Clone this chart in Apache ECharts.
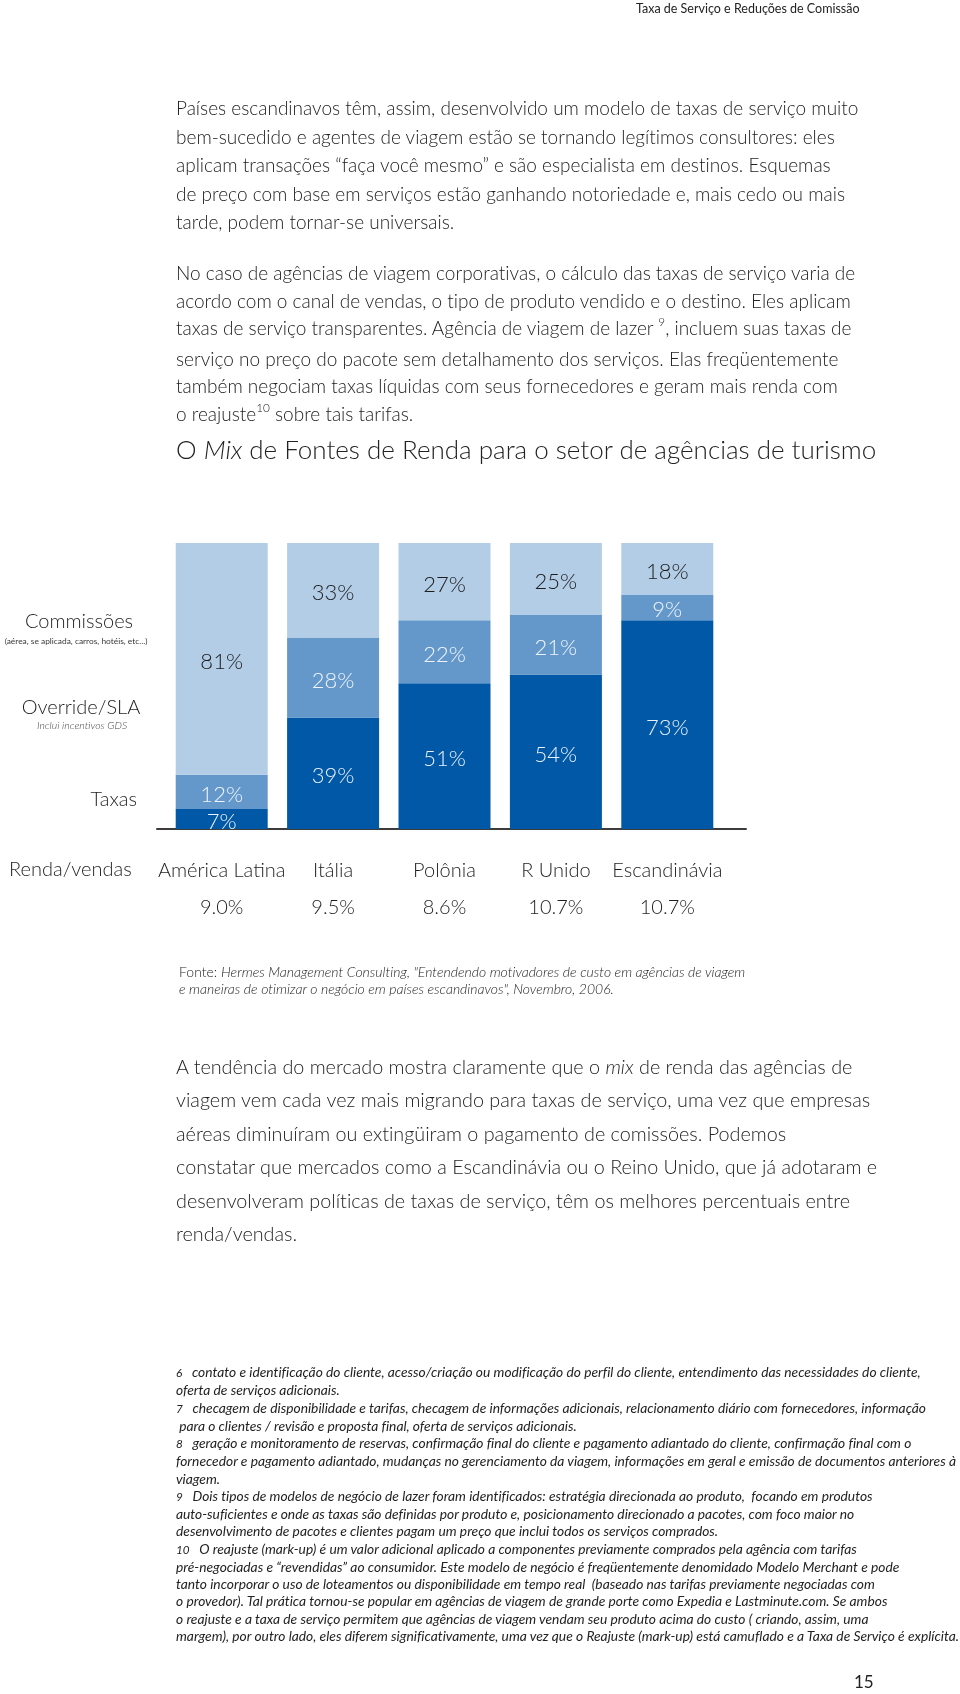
<!DOCTYPE html>
<html>
<head>
<meta charset="utf-8">
<script src="https://cdn.jsdelivr.net/npm/echarts@6/dist/echarts.min.js"></script>
<style>
  html, body { margin: 0; padding: 0; background: #ffffff; }
  #page { position: relative; width: 960px; height: 1694px; overflow: hidden; }
  #chart { position: absolute; left: 0; top: 0; width: 960px; height: 1694px; }
  .t { position: absolute; white-space: nowrap; font-family: Lato, "Open Sans", sans-serif; color: #222; font-weight: 300; font-variant-ligatures: none; }
  .t i { font-style: italic; }
  .t sup { font-size: 62%; vertical-align: 0; position: relative; top: -0.75em; }
  .fn { font-size: 85%; }
</style>
</head>
<body>
<div id="page">
  <div id="chart"></div>

  <div class="t" style="left:636px; top:1px; font-size:12.5px; line-height:16px; font-weight:400;">Taxa de Serviço e Reduções de Comissão</div>

  <div class="t" style="left:176px; top:94px; font-size:19px; line-height:28.5px;">
    Países escandinavos têm, assim, desenvolvido um modelo de taxas de serviço muito<br>
    bem-sucedido e agentes de viagem estão se tornando legítimos consultores: eles<br>
    aplicam transações “faça você mesmo” e são especialista em destinos. Esquemas<br>
    de preço com base em serviços estão ganhando notoriedade e, mais cedo ou mais<br>
    tarde, podem tornar-se universais.
  </div>

  <div class="t" style="left:176px; top:259px; font-size:19px; line-height:27.6px;">
    No caso de agências de viagem corporativas, o cálculo das taxas de serviço varia de<br>
    acordo com o canal de vendas, o tipo de produto vendido e o destino. Eles aplicam<br>
    taxas de serviço transparentes. Agência de viagem de lazer <sup>9</sup>, incluem suas taxas de<br>
    serviço no preço do pacote sem detalhamento dos serviços. Elas freqüentemente<br>
    também negociam taxas líquidas com seus fornecedores e geram mais renda com<br>
    o reajuste<sup>10</sup> sobre tais tarifas.
  </div>

  <div class="t" style="left:176px; top:433px; font-size:26px; line-height:32px;">O <i>Mix</i> de Fontes de Renda para o setor de agências de turismo</div>

  <div class="t" style="left:179px; top:963px; font-size:14px; line-height:17px;">
    Fonte: <i>Hermes Management Consulting, "Entendendo motivadores de custo em agências de viagem</i><br>
    <i>e maneiras de otimizar o negócio em países escandinavos", Novembro, 2006.</i>
  </div>

  <div class="t" style="left:176px; top:1050px; font-size:19.8px; line-height:33.4px;">
    A tendência do mercado mostra claramente que o <i>mix</i> de renda das agências de<br>
    viagem vem cada vez mais migrando para taxas de serviço, uma vez que empresas<br>
    aéreas diminuíram ou extingüiram o pagamento de comissões. Podemos<br>
    constatar que mercados como a Escandinávia ou o Reino Unido, que já adotaram e<br>
    desenvolveram políticas de taxas de serviço, têm os melhores percentuais entre<br>
    renda/vendas.
  </div>

  <div class="t" style="left:176px; top:1363px; font-size:13.8px; line-height:17.27px; font-style:italic; font-weight:400;">
    <span class="fn">6</span>&nbsp;&nbsp; contato e identificação do cliente, acesso/criação ou modificação do perfil do cliente, entendimento das necessidades do cliente,<br>
    oferta de serviços adicionais.<br>
    <span class="fn">7</span>&nbsp;&nbsp; checagem de disponibilidade e tarifas, checagem de informações adicionais, relacionamento diário com fornecedores, informação<br>
    &nbsp;para o clientes / revisão e proposta final, oferta de serviços adicionais.<br>
    <span class="fn">8</span>&nbsp;&nbsp; geração e monitoramento de reservas, confirmação final do cliente e pagamento adiantado do cliente, confirmação final com o<br>
    fornecedor e pagamento adiantado, mudanças no gerenciamento da viagem, informações em geral e emissão de documentos anteriores à<br>
    viagem.<br>
    <span class="fn">9</span>&nbsp;&nbsp; Dois tipos de modelos de negócio de lazer foram identificados: estratégia direcionada ao produto, &nbsp;focando em produtos<br>
    auto-suficientes e onde as taxas são definidas por produto e, posicionamento direcionado a pacotes, com foco maior no<br>
    desenvolvimento de pacotes e clientes pagam um preço que inclui todos os serviços comprados.<br>
    <span class="fn">10</span>&nbsp;&nbsp; O reajuste (mark-up) é um valor adicional aplicado a componentes previamente comprados pela agência com tarifas<br>
    pré-negociadas e “revendidas” ao consumidor. Este modelo de negócio é freqüentemente denomidado Modelo Merchant e pode<br>
    tanto incorporar o uso de loteamentos ou disponibilidade em tempo real &nbsp;(baseado nas tarifas previamente negociadas com<br>
    o provedor). Tal prática tornou-se popular em agências de viagem de grande porte como Expedia e Lastminute.com. Se ambos<br>
    o reajuste e a taxa de serviço permitem que agências de viagem vendam seu produto acima do custo ( criando, assim, uma<br>
    margem), por outro lado, eles diferem significativamente, uma vez que o Reajuste (mark-up) está camuflado e a Taxa de Serviço é explícita.
  </div>

  <div class="t" style="left:854px; top:1671px; font-size:17px; line-height:22px; font-weight:400;">15</div>
</div>

<script>
// ---- data ----
const categories = ['América Latina', 'Itália', 'Polônia', 'R Unido', 'Escandinávia'];
const taxas = [7, 39, 51, 54, 73];
const overrideSla = [12, 28, 22, 21, 9];
const comissoes = [81, 33, 27, 25, 18];
const rendaVendas = ['9.0%', '9.5%', '8.6%', '10.7%', '10.7%'];
const seriesNames = ['Taxas', 'Override/SLA', 'Commissões'];

const FONT = 'Lato, "Open Sans", sans-serif';
const colors = ['#0058a6', '#6598ca', '#b3cde7'];
const labelColors = ['#e9f1fa', '#eef4fb', '#1c1c1c'];
const seriesData = [taxas, overrideSla, comissoes];

const chart = echarts.init(document.getElementById('chart'), null, { renderer: 'canvas' });

const series = seriesData.map((d, i) => ({
  name: seriesNames[i],
  type: 'bar',
  stack: 'mix',
  xAxisIndex: 0,
  yAxisIndex: 0,
  barWidth: 92,
  data: d,
  itemStyle: { color: colors[i] },
  label: {
    show: true,
    position: 'inside',
    offset: [0, 3],
    formatter: '{c}%',
    fontFamily: FONT,
    fontWeight: 300,
    fontSize: 22,
    color: labelColors[i]
  },
  emphasis: { disabled: true }
}));

const axisLabelStyle = {
  fontFamily: FONT,
  fontWeight: 300,
  fontSize: 20,
  color: '#1e1e1e',
  interval: 0,
  margin: 32
};

const option = {
  animation: false,
  grid: [
    { left: 166, right: 237, top: 543, bottom: 865 },
    { left: 157, right: 214, top: 543, bottom: 865 }
  ],
  xAxis: [
    {
      type: 'category', gridIndex: 0, data: categories,
      axisLine: { show: false }, axisTick: { show: false },
      axisLabel: axisLabelStyle
    },
    {
      type: 'value', gridIndex: 1, min: 0, max: 1,
      axisLine: { show: true, lineStyle: { color: '#3c3c3c', width: 2 } },
      axisTick: { show: false }, axisLabel: { show: false }, splitLine: { show: false }
    },
    {
      type: 'category', gridIndex: 0, data: rendaVendas, position: 'bottom', offset: 37,
      axisLine: { show: false }, axisTick: { show: false },
      axisLabel: axisLabelStyle
    }
  ],
  yAxis: [
    { type: 'value', gridIndex: 0, min: 0, max: 100, show: false },
    { type: 'value', gridIndex: 1, min: 0, max: 1, show: false }
  ],
  series: series,
  graphic: [
    { type: 'text', x: 79, y: 622, style: { text: 'Commissões', font: '300 20px ' + FONT, fill: '#1e1e1e', align: 'center', verticalAlign: 'middle' } },
    { type: 'text', x: 76, y: 641, style: { text: '(aérea, se aplicada, carros, hotéis, etc...)', font: '400 8.4px ' + FONT, fill: '#3a3a3a', align: 'center', verticalAlign: 'middle' } },
    { type: 'text', x: 81, y: 708, style: { text: 'Override/SLA', font: '300 20px ' + FONT, fill: '#1e1e1e', align: 'center', verticalAlign: 'middle' } },
    { type: 'text', x: 82, y: 726, style: { text: 'Inclui incentivos GDS', font: 'italic 300 10.5px ' + FONT, fill: '#444', align: 'center', verticalAlign: 'middle' } },
    { type: 'text', x: 137, y: 800, style: { text: 'Taxas', font: '300 20px ' + FONT, fill: '#1e1e1e', align: 'right', verticalAlign: 'middle' } },
    { type: 'text', x: 9, y: 870, style: { text: 'Renda/vendas', font: '300 20px ' + FONT, fill: '#1e1e1e', align: 'left', verticalAlign: 'middle' } }
  ]
};

chart.setOption(option);
</script>
</body>
</html>
